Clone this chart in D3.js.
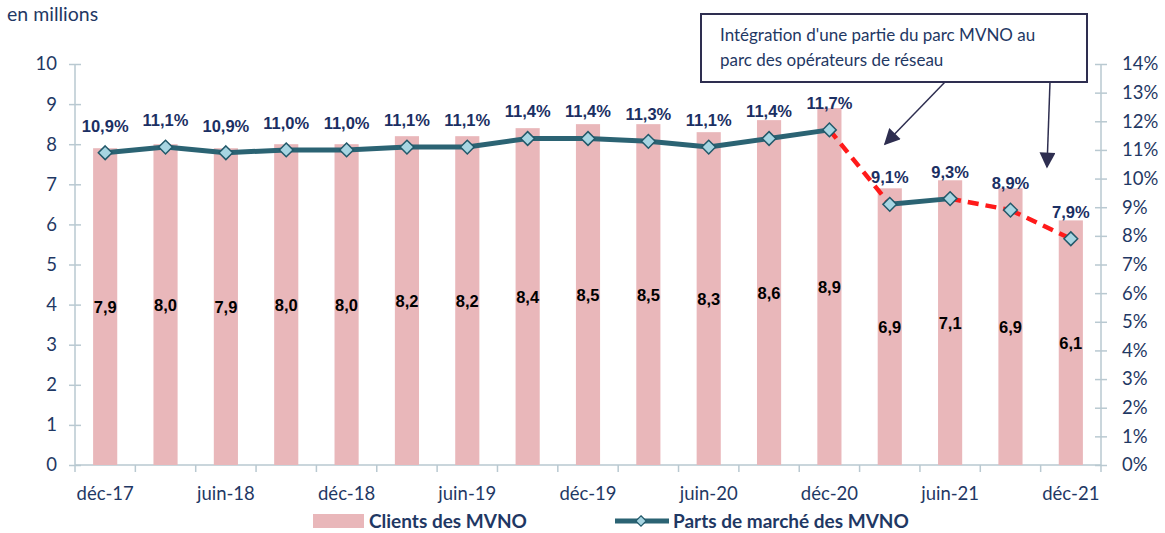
<!DOCTYPE html>
<meta charset="utf-8">
<html>
<head>
<style>
body { margin: 0; background: #fff; }
text { font-family: Lato, "Open Sans", sans-serif; }
.axis path, .axis line { stroke: #b9c9d1; stroke-width: 1.5px; }
.axis text { fill: #1f3864; font-size: 18.5px; font-family: Lato, sans-serif; }
text.lbl { font-family: "Liberation Sans", Arial, sans-serif; font-weight: bold; font-size: 16.5px; }
</style>
</head>
<body>
<script src="https://d3js.org/d3.v7.min.js"></script>
<script>

var periods = ["déc-17","mars-18","juin-18","sept-18","déc-18","mars-19","juin-19","sept-19","déc-19",
               "mars-20","juin-20","sept-20","déc-20","mars-21","juin-21","sept-21","déc-21"];
var clients = [7.9, 8.0, 7.9, 8.0, 8.0, 8.2, 8.2, 8.4, 8.5, 8.5, 8.3, 8.6, 8.9, 6.9, 7.1, 6.9, 6.1];
var parts   = [10.9, 11.1, 10.9, 11.0, 11.0, 11.1, 11.1, 11.4, 11.4, 11.3, 11.1, 11.4, 11.7, 9.1, 9.3, 8.9, 7.9];
// segments drawn dashed in red (index of start point)
var dashedFrom = [12, 14, 15];
var leftTicks = d3.range(0, 11);
var rightTicks = d3.range(0, 15);

var width = 1165, height = 533;
var plotLeft = 75, plotRight = 1101, plotTop = 64, plotBottom = 465;

var svg = d3.select("body").append("svg")
    .attr("width", width)
    .attr("height", height);

var x = d3.scaleBand()
    .domain(d3.range(periods.length))
    .range([plotLeft, plotRight])
    .paddingInner(0.6)
    .paddingOuter(0.3);

var y = d3.scaleLinear().domain([0, 10]).range([plotBottom, plotTop]);
var y2 = d3.scaleLinear().domain([0, 14]).range([plotBottom, plotTop]);

var fmt = function(v) { return d3.format(".1f")(v).replace(".", ","); };
var cx = function(i) { return x(i) + x.bandwidth() / 2; };

// axes
svg.append("g")
    .attr("class", "axis")
    .attr("transform", "translate(" + plotLeft + ",0)")
    .call(d3.axisLeft(y).tickValues(leftTicks).tickSize(6).tickPadding(12))
    .call(function(g) {
      g.selectAll(".tick line").attr("x1", 6).attr("x2", -6);
      g.select(".domain").attr("d", "M0," + plotTop + "V" + plotBottom);
    });

svg.append("g")
    .attr("class", "axis")
    .attr("transform", "translate(" + plotRight + ",0)")
    .call(d3.axisRight(y2).tickValues(rightTicks).tickFormat(function(d) { return d + "%"; }).tickSize(6).tickPadding(15))
    .call(function(g) {
      g.selectAll(".tick line").attr("x1", -6).attr("x2", 6);
      g.select(".domain").attr("d", "M0," + plotTop + "V" + plotBottom);
    });

// x axis : line with ticks between categories
var xa = svg.append("g").attr("class", "axis");
xa.append("line").attr("x1", plotLeft).attr("x2", plotRight).attr("y1", plotBottom).attr("y2", plotBottom);
xa.selectAll("line.sep")
  .data(d3.range(periods.length + 1))
  .enter().append("line")
    .attr("class", "sep")
    .attr("x1", function(i) { return plotLeft + i * x.step(); })
    .attr("x2", function(i) { return plotLeft + i * x.step(); })
    .attr("y1", plotBottom)
    .attr("y2", plotBottom + 7);
xa.selectAll("text")
  .data(d3.range(0, periods.length, 2))
  .enter().append("text")
    .attr("x", cx)
    .attr("y", plotBottom + 35)
    .attr("text-anchor", "middle")
    .text(function(i) { return periods[i]; });

// bars
svg.append("g").selectAll("rect")
  .data(clients)
  .enter().append("rect")
    .attr("x", function(d, i) { return x(i); })
    .attr("y", function(d) { return y(d); })
    .attr("width", x.bandwidth())
    .attr("height", function(d) { return plotBottom - y(d); })
    .attr("fill", "#e9b7ba");

svg.append("g").selectAll("text")
  .data(clients)
  .enter().append("text")
    .attr("class", "lbl")
    .attr("x", function(d, i) { return cx(i); })
    .attr("y", function(d) { return y(d / 2) + 6; })
    .attr("text-anchor", "middle")
    .attr("fill", "#000")
    .text(fmt);

// line
var pts = parts.map(function(v, i) { return [cx(i), y2(v)]; });

svg.append("g").selectAll("line")
  .data(d3.range(parts.length - 1))
  .enter().append("line")
    .attr("x1", function(i) { return pts[i][0]; })
    .attr("y1", function(i) { return pts[i][1]; })
    .attr("x2", function(i) { return pts[i + 1][0]; })
    .attr("y2", function(i) { return pts[i + 1][1]; })
    .attr("stroke", function(i) { return dashedFrom.indexOf(i) >= 0 ? "#ff1a1a" : "#2b6373"; })
    .attr("stroke-width", function(i) { return dashedFrom.indexOf(i) >= 0 ? 4.5 : 5; })
    .attr("stroke-dasharray", function(i) { return dashedFrom.indexOf(i) >= 0 ? "11,7" : null; });

var diamond = d3.symbol().type(d3.symbolDiamond2).size(120);
svg.append("g").selectAll("path")
  .data(pts)
  .enter().append("path")
    .attr("d", diamond)
    .attr("transform", function(d) { return "translate(" + d[0] + "," + d[1] + ")"; })
    .attr("fill", "#a7d5e2")
    .attr("stroke", "#22596a")
    .attr("stroke-width", 1.5);

svg.append("g").selectAll("text")
  .data(parts)
  .enter().append("text")
    .attr("class", "lbl")
    .attr("x", function(d, i) { return cx(i); })
    .attr("y", function(d) { return y2(d) - 21; })
    .attr("text-anchor", "middle")
    .attr("fill", "#1b2f63")
    .text(function(d) { return fmt(d) + "%"; });

// unit label
svg.append("text")
    .attr("x", 7).attr("y", 21)
    .attr("fill", "#1f3864")
    .style("font-size", "19.5px")
    .text("en millions");

// annotation box + arrows
svg.append("defs").append("marker")
    .attr("id", "arr")
    .attr("viewBox", "0 0 10 10")
    .attr("refX", 9).attr("refY", 5)
    .attr("markerWidth", 18).attr("markerHeight", 16)
    .attr("markerUnits", "userSpaceOnUse")
    .attr("orient", "auto")
  .append("path")
    .attr("d", "M0,0L10,5L0,10Z")
    .attr("fill", "#2e2e50");

svg.append("line")
    .attr("x1", 945).attr("y1", 82).attr("x2", 885).attr("y2", 144)
    .attr("stroke", "#2e2e50").attr("stroke-width", 1.5)
    .attr("marker-end", "url(#arr)");
svg.append("line")
    .attr("x1", 1050).attr("y1", 82).attr("x2", 1047).attr("y2", 167)
    .attr("stroke", "#2e2e50").attr("stroke-width", 1.5)
    .attr("marker-end", "url(#arr)");

svg.append("rect")
    .attr("x", 701).attr("y", 14).attr("width", 386).attr("height", 68)
    .attr("fill", "#fff")
    .attr("stroke", "#2e2e50")
    .attr("stroke-width", 2);
var note = svg.append("text")
    .attr("fill", "#1f3864")
    .style("font-size", "17px");
note.append("tspan").attr("x", 720).attr("y", 41).text("Intégration d'une partie du parc MVNO au");
note.append("tspan").attr("x", 720).attr("y", 66).text("parc des opérateurs de réseau");

// legend
var lg = svg.append("g").attr("transform", "translate(0,521)");
lg.append("rect").attr("x", 313).attr("y", -7).attr("width", 51).attr("height", 14).attr("fill", "#e9b7ba");
lg.append("text").attr("x", 369).attr("y", 7)
    .attr("fill", "#1f3864").style("font-size", "19px").style("font-weight", "bold")
    .text("Clients des MVNO");
lg.append("line").attr("x1", 615).attr("x2", 669).attr("y1", 0).attr("y2", 0)
    .attr("stroke", "#2b6373").attr("stroke-width", 5);
lg.append("path").attr("d", d3.symbol().type(d3.symbolDiamond2).size(70))
    .attr("transform", "translate(641,0)")
    .attr("fill", "#a7d5e2").attr("stroke", "#22596a").attr("stroke-width", 1.2);
lg.append("text").attr("x", 673).attr("y", 7)
    .attr("fill", "#1f3864").style("font-size", "19px").style("font-weight", "bold")
    .text("Parts de marché des MVNO");

</script>
</body>
</html>
